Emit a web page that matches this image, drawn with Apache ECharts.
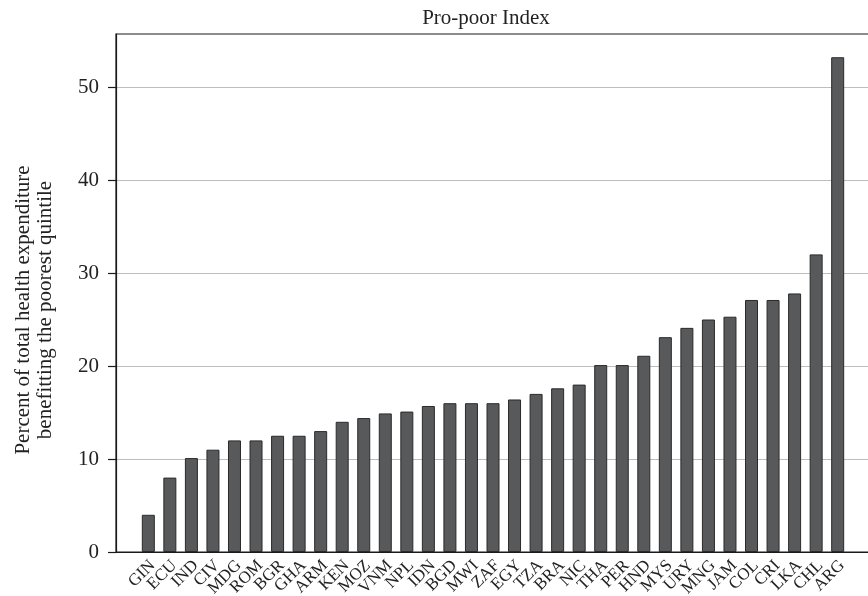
<!DOCTYPE html>
<html>
<head>
<meta charset="utf-8">
<script src="https://cdn.jsdelivr.net/npm/echarts@6/dist/echarts.min.js"></script>
<style>
html,body{margin:0;padding:0;background:#fff;}
#c{width:868px;height:596px;}
</style>
</head>
<body>
<div id="c"></div>
<script>
var countries = ["GIN","ECU","IND","CIV","MDG","ROM","BGR","GHA","ARM","KEN","MOZ","VNM","NPL","IDN","BGD","MWI","ZAF","EGY","TZA","BRA","NIC","THA","PER","HND","MYS","URY","MNG","JAM","COL","CRI","LKA","CHL","ARG"];
var values = [4.0, 8.0, 10.1, 11.0, 12.0, 12.0, 12.5, 12.5, 13.0, 14.0, 14.4, 14.9, 15.1, 15.7, 16.0, 16.0, 16.0, 16.4, 17.0, 17.6, 18.0, 20.1, 20.1, 21.1, 23.1, 24.1, 25.0, 25.3, 27.1, 27.1, 27.8, 32.0, 53.2];
var yTicks = [0, 10, 20, 30, 40, 50];
var titleText = "Pro-poor Index";
var yTitleLines = ["Percent of total health expenditure", "benefitting the poorest quintile"];

var FONT = "'Liberation Serif', 'Times New Roman', serif";
var LABEL_SHIFT = 0.2; // rotated label anchor offset (in category units)
var idx = countries.map(function (c, i) { return i; });
var evenPos = idx.filter(function (i) { return i % 2 === 0; }).map(function (i) { return i + LABEL_SHIFT; });
var oddPos = idx.filter(function (i) { return i % 2 === 1; }).map(function (i) { return i + LABEL_SHIFT; });
var barData = values.map(function (v, i) { return [i, v]; });

function labelAxis(vals, showLine) {
  return {
    type: 'value',
    position: 'bottom',
    min: -1.5, max: 33.5,
    splitLine: {show: false},
    axisLine: {show: showLine, onZero: false, lineStyle: {color: '#1a1a1a', width: 1.2}},
    axisTick: {show: false},
    axisLabel: {
      customValues: vals,
      showMinLabel: true,
      showMaxLabel: true,
      hideOverlap: false,
      rotate: 45,
      margin: 11,
      fontFamily: FONT, fontSize: 17, color: '#222',
      formatter: function (v) { return countries[Math.round(v - LABEL_SHIFT)] || ''; }
    }
  };
}

var chart = echarts.init(document.getElementById('c'), null, {renderer: 'canvas'});
chart.setOption({
  backgroundColor: '#ffffff',
  animation: false,
  title: {
    text: titleText,
    left: 481,
    top: 3,
    textAlign: 'center',
    textStyle: {fontFamily: FONT, fontSize: 21, fontWeight: 'normal', color: '#222'}
  },
  grid: {
    left: 116, top: 34, width: 754, height: 518,
    containLabel: false,
    outerBoundsMode: 'none',
    show: true, borderColor: '#1a1a1a', borderWidth: 1.2, backgroundColor: 'transparent'
  },
  xAxis: [labelAxis(evenPos, true), labelAxis(oddPos, false)],
  yAxis: {
    type: 'value',
    min: 0, max: 55.7, interval: 10,
    axisLine: {show: true, onZero: false, lineStyle: {color: '#1a1a1a', width: 1.2}},
    axisTick: {show: true, length: 8, customValues: yTicks, lineStyle: {color: '#1a1a1a', width: 1.2}},
    axisLabel: {customValues: yTicks, margin: 17, fontFamily: FONT, fontSize: 21, color: '#222'},
    splitLine: {show: true, lineStyle: {color: '#bdbdbd', width: 1.2}}
  },
  graphic: [{
    type: 'text',
    x: 34, y: 310,
    rotation: Math.PI / 2,
    style: {
      text: yTitleLines.join('\n'),
      fontFamily: FONT, fontSize: 21, lineHeight: 22,
      fill: '#222', align: 'center', verticalAlign: 'middle'
    }
  }],
  series: [{
    type: 'bar',
    xAxisIndex: 0,
    data: barData,
    barWidth: 13,
    itemStyle: {color: '#58595b', borderColor: '#2a2a2a', borderWidth: 1}
  }]
});
</script>
</body>
</html>
